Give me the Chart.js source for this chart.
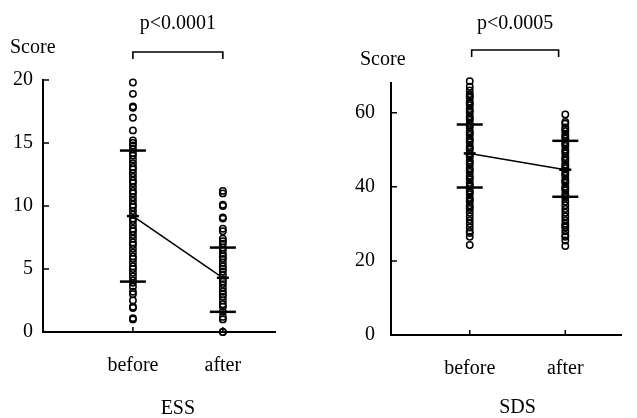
<!DOCTYPE html>
<html lang="en">
<head>
<meta charset="UTF-8">
<title>ESS / SDS before and after</title>
<script src="https://cdn.jsdelivr.net/npm/chart.js"></script>
<style>
    body { margin: 0; background: #fff; }
    .painel { position: absolute; top: 0; height: 418px; }
    #esq { left: 0; width: 318px; }
    #dir { left: 318px; width: 319px; }
</style>
</head>
<body>
<div class="painel" id="esq"><canvas id="chartEss"></canvas></div>
<div class="painel" id="dir"><canvas id="chartSds"></canvas></div>
<script>
// groups on the x axis (drawn at x = 1 and x = 2)
const groups = ['before', 'after'];

// individual scores
const essBefore = [19.8, 18.9, 17.9, 17.8, 17.0, 16.0,
    15.2, 15.0, 14.8, 14.5, 14.2, 14.0, 13.7, 13.4, 13.1, 12.9, 12.6, 12.3, 12.0, 11.8, 11.5,
    11.2, 11.0, 10.7, 10.4, 10.1, 9.9, 9.6, 9.3, 9.0, 8.8, 8.5, 8.2, 8.0, 7.7, 7.4, 7.1, 6.9,
    6.6, 6.3, 6.0, 5.8, 5.5, 5.2, 5.0, 4.7, 4.4, 4.1, 3.9, 3.6,
    3.2, 3.0, 2.5, 2.0, 1.9, 1.1, 1.0];
const essAfter = [11.2, 11.0, 10.1, 10.0, 9.1, 9.0, 8.2, 8.0,
    7.4, 7.2, 7.0, 6.7, 6.5, 6.2, 6.0, 5.8, 5.5, 5.2, 5.0, 4.8, 4.5, 4.2, 4.0, 3.8, 3.5,
    3.2, 3.0, 2.8, 2.5, 2.2, 2.0, 1.6, 1.2, 1.0, 0, 0];
const sdsBefore = [68.5, 67, 66, 65, 64.5, 64, 63, 62.5, 62, 61, 60.5, 60, 59, 58.5, 58, 57,
    56.5, 56, 55, 54.5, 54, 53, 52.5, 52, 51, 50.5, 50, 49, 48.5, 48, 47, 46.5, 46, 45, 44.5,
    44, 43, 42.5, 42, 41, 40.5, 40, 39, 38.5, 38, 37, 36.5, 36, 35, 34.5, 34, 33, 32, 31, 30,
    29, 28, 27.5, 26.5, 24.3];
const sdsAfter = [59.5, 57.5, 57, 56, 55.5, 55, 54, 53.5, 53, 52, 51.5, 51, 50, 49.5, 49, 48,
    47.5, 47, 46, 45.5, 45, 44, 43.5, 43, 42, 41.5, 41, 40, 39.5, 39, 38, 37.5, 37, 36, 35, 34,
    33, 32, 31, 30, 29.5, 29, 28, 27, 26.5, 25.5, 24];

// mean and mean +/- SD per group
const essMean = [9.2, 4.3];
const essSdLow = [4.0, 1.6];
const essSdHigh = [14.4, 6.7];
const sdsMean = [49.0, 44.6];
const sdsSdLow = [39.8, 37.3];
const sdsSdHigh = [56.8, 52.4];

// tick labels
const essTicks = [0, 5, 10, 15, 20];
const sdsTicks = [0, 20, 40, 60];

const fonte = '"Liberation Serif", "DejaVu Serif", serif';
const preto = '#000';

// texts, bracket and small inside ticks
const extras = {
    id: 'extras',
    afterDraw(chart, args, opts) {
        const { ctx, scales: { x, y } } = chart;
        ctx.save();
        ctx.fillStyle = preto;
        ctx.strokeStyle = preto;
        ctx.font = '20px ' + fonte;
        ctx.textAlign = 'left';
        ctx.textBaseline = 'alphabetic';
        ctx.fillText('Score', opts.scoreX, opts.scoreY);

        const x1 = x.getPixelForValue(opts.bracket[0]);
        const x2 = x.getPixelForValue(opts.bracket[1]);
        ctx.lineWidth = 1.6;
        ctx.beginPath();
        ctx.moveTo(x1, opts.bracketY + 7);
        ctx.lineTo(x1, opts.bracketY);
        ctx.lineTo(x2, opts.bracketY);
        ctx.lineTo(x2, opts.bracketY + 7);
        ctx.stroke();

        ctx.textAlign = 'center';
        ctx.fillText(opts.pText, (x1 + x2) / 2, opts.pY);
        const meio = (x.getPixelForValue(1) + x.getPixelForValue(2)) / 2;
        ctx.fillText(opts.title, meio, opts.titleY);

        ctx.lineWidth = 1.5;
        ctx.beginPath();
        y.ticks.forEach(t => {
            const py = y.getPixelForValue(t.value);
            ctx.moveTo(x.left, py);
            ctx.lineTo(x.left + 6, py);
        });
        x.ticks.forEach(t => {
            const px = x.getPixelForValue(t.value);
            ctx.moveTo(px, y.bottom);
            ctx.lineTo(px, y.bottom - 5);
        });
        ctx.stroke();
        ctx.restore();
    }
};

function pontos(valores, pos) {
    return valores.map(v => ({ x: pos, y: v }));
}

function criarGrafico(id, antes, depois, media, sdLow, sdHigh, ticksY, cfg) {
    const porGrupo = arr => arr.map((v, i) => ({ x: i + 1, y: v }));
    const circulos = {
        pointStyle: 'circle',
        pointRadius: 3.2,
        pointBorderWidth: 1.5,
        pointBorderColor: preto,
        pointBackgroundColor: 'rgba(255,255,255,0)',
        clip: false
    };
    const dados = {
        datasets: [
            {
                label: 'mean',
                data: porGrupo(media),
                showLine: true,
                borderColor: preto,
                borderWidth: 1.5,
                pointStyle: 'line',
                pointRadius: 6,
                pointBorderWidth: 2.5,
                pointBorderColor: preto,
                clip: false
            },
            {
                label: 'sd',
                data: porGrupo(sdLow).concat(porGrupo(sdHigh)),
                showLine: false,
                pointStyle: 'line',
                pointRadius: 13,
                pointBorderWidth: 2.5,
                pointBorderColor: preto,
                clip: false
            },
            Object.assign({ label: groups[0], data: pontos(antes, 1) }, circulos),
            Object.assign({ label: groups[1], data: pontos(depois, 2) }, circulos)
        ]
    };

    const options = {
        responsive: true,
        maintainAspectRatio: false,
        animation: false,
        layout: { padding: { left: 0, right: cfg.padRight, top: cfg.padTop, bottom: 0 } },
        scales: {
            x: {
                type: 'linear',
                min: cfg.xMin,
                max: cfg.xMax,
                afterFit: s => { s.height = cfg.xHeight; },
                afterBuildTicks: s => { s.ticks = groups.map((g, i) => ({ value: i + 1 })); },
                grid: { display: false, drawTicks: false },
                border: { display: true, color: preto, width: 2 },
                ticks: {
                    padding: 22,
                    color: preto,
                    font: { family: fonte, size: 20 },
                    callback: v => groups[v - 1]
                }
            },
            y: {
                min: 0,
                max: cfg.yMax,
                afterFit: s => { s.width = cfg.yWidth; },
                afterBuildTicks: s => { s.ticks = ticksY.map(v => ({ value: v })); },
                grid: { display: false, drawTicks: false },
                border: { display: true, color: preto, width: 2 },
                ticks: {
                    padding: cfg.yPad,
                    color: preto,
                    font: { family: fonte, size: 20 }
                }
            }
        },
        plugins: {
            legend: { display: false },
            tooltip: { enabled: false },
            extras: cfg.extras
        }
    };

    return new Chart(document.getElementById(id), {
        type: 'scatter',
        data: dados,
        options: options,
        plugins: [extras]
    });
}

criarGrafico('chartEss', essBefore, essAfter, essMean, essSdLow, essSdHigh, essTicks, {
    xMin: 0, xMax: 2.58, yMax: 20,
    padTop: 80, padRight: 43, xHeight: 86, yWidth: 43, yPad: 10,
    extras: { scoreX: 10, scoreY: 53, pText: 'p<0.0001', pY: 29, bracket: [1, 2], bracketY: 52,
        title: 'ESS', titleY: 414 }
});

criarGrafico('chartSds', sdsBefore, sdsAfter, sdsMean, sdsSdLow, sdsSdHigh, sdsTicks, {
    xMin: 0.176, xMax: 2.588, yMax: 68,
    padTop: 83, padRight: 0, xHeight: 83, yWidth: 73, yPad: 16,
    extras: { scoreX: 42, scoreY: 65, pText: 'p<0.0005', pY: 29, bracket: [1.02, 1.93], bracketY: 50,
        title: 'SDS', titleY: 413 }
});
</script>
</body>
</html>
